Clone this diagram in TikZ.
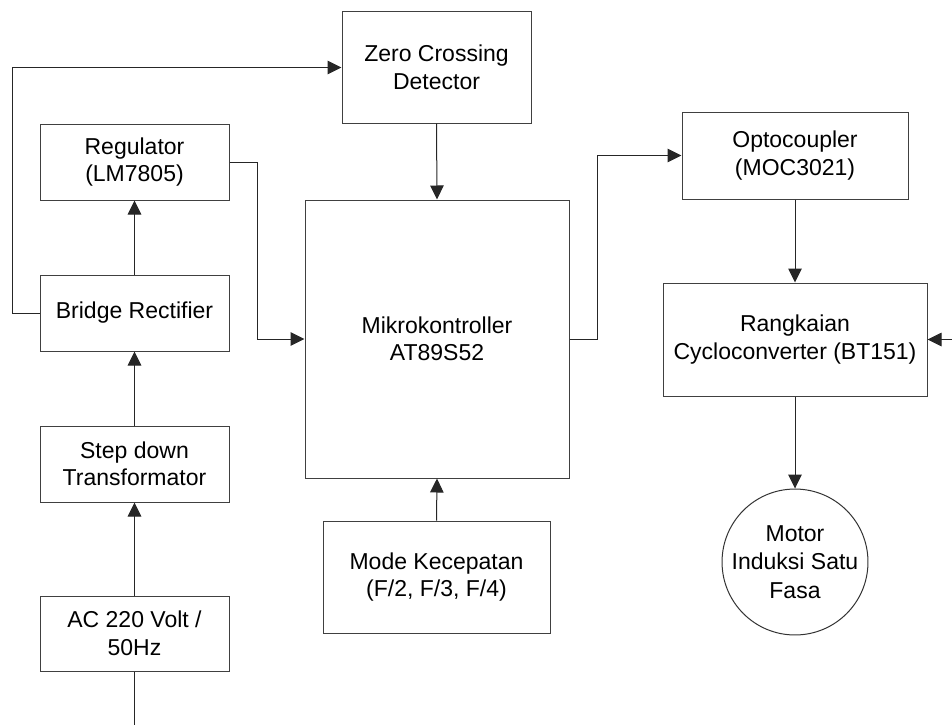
\documentclass[tikz,border=0pt]{standalone}
\usepackage{fontspec}
\setmainfont{Liberation Sans}
\usetikzlibrary{arrows.meta}

\tikzset{
  blk/.style={draw=black!75, line width=1pt, fill=white, rectangle, inner sep=0pt,
    align=center, font=\fontsize{23}{27.5}\selectfont},
  motorblk/.style={draw=black!80, line width=1pt, circle, inner sep=0pt,
    minimum size=144pt, align=center, font=\fontsize{23}{28.5}\selectfont},
  link/.style={line width=1pt, draw=black!85},
  flow/.style={link, -{Triangle[length=14pt, width=13.5pt]}},
}

\begin{document}
\begin{tikzpicture}[x=1pt, y=-1pt]
\useasboundingbox (0,0) rectangle (952,725);

% power supply chain
\node[blk, minimum width=189pt, minimum height=75pt] (ac) at (134.5,633.5) {AC 220 Volt /\\50Hz};
\node[blk, minimum width=189pt, minimum height=76pt] (sd) at (134.5,464) {Step down\\Transformator};
\node[blk, minimum width=189pt, minimum height=76pt] (br) at (134.5,313) {Bridge Rectifier};
\node[blk, minimum width=189pt, minimum height=76pt] (reg) at (134.5,162) {Regulator\\(LM7805)};

% controller and its inputs
\node[blk, minimum width=189pt, minimum height=111pt] (zcd) at (436.5,67.5) {Zero Crossing\\Detector};
\node[blk, minimum width=264pt, minimum height=278pt] (mcu) at (437,339) {Mikrokontroller\\AT89S52};
\node[blk, minimum width=227pt, minimum height=112pt] (mode) at (436.5,577) {Mode Kecepatan\\(F/2, F/3, F/4)};

% output stage
\node[blk, minimum width=226pt, minimum height=87pt] (opto) at (795,155.5) {Optocoupler\\(MOC3021)};
\node[blk, minimum width=264pt, minimum height=113pt] (cyc) at (795,339.5) {Rangkaian\\Cycloconverter (BT151)};
\node[motorblk] (motor) at (795,562) {Motor\\Induksi Satu\\Fasa};

% free ends
\coordinate (mains) at (134.5,725);
\coordinate (acin) at (952,339.5);

% power path
\draw[link] (ac.south) -- (mains);
\draw[flow] (ac.north) -- (sd.south);
\draw[flow] (sd.north) -- (br.south);
\draw[flow] (br.north) -- (reg.south);
\draw[flow] (br.west) -- (12,313) -- (12,67.5) -- (zcd.west);
\draw[flow] (reg.east) -- (257,162) -- (257,339) -- (mcu.west);

% controller links
\draw[flow] (zcd.south) -- (mcu.north);
\draw[flow] (mode.north) -- (mcu.south);
\draw[flow] (mcu.east) -- (597,339) -- (597,155.5) -- (opto.west);
\draw[flow] (opto.south) -- (cyc.north);
\draw[flow] (cyc.south) -- (motor.north);
\draw[flow] (acin) -- (cyc.east);
\end{tikzpicture}
\end{document}
